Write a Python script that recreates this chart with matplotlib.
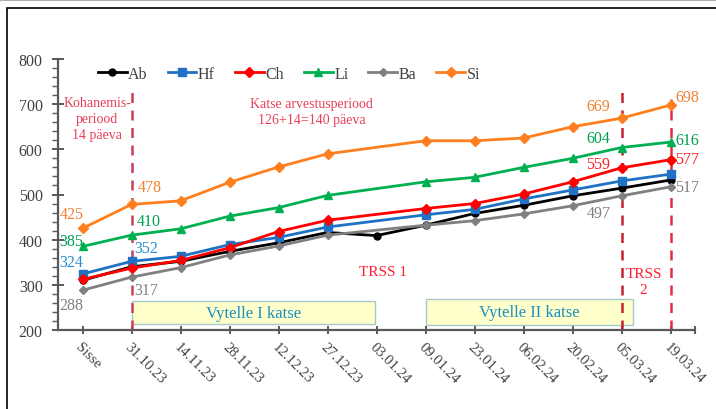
import numpy as np
import matplotlib
matplotlib.use("Agg")
import matplotlib.pyplot as plt
from matplotlib.patches import Rectangle
from matplotlib.ticker import MultipleLocator, FixedLocator

nan = np.nan
categories = ["Sisse", "31.10.23", "14.11.23", "28.11.23", "12.12.23", "27.12.23",
              "03.01.24", "09.01.24", "23.01.24", "06.02.24", "20.02.24", "05.03.24", "19.03.24"]
Ab = [310, 340, 352, 374, 393, 416, 409, 432, 458, 476, 497, 514, 532]
Hf = [324, 352, 363, 389, 405, 428, nan, 455, 467, 490, 510, 530, 545]
Ch = [312, 337, 354, 382, 418, 443, nan, 469, 480, 501, 528, 559, 577]
Li = [385, 410, 424, 452, 471, 498, nan, 528, 538, 560, 580, 604, 616]
Ba = [288, 317, 338, 366, 386, 410, nan, 432, 442, 457, 475, 497, 517]
Si = [425, 478, 486, 527, 561, 590, nan, 619, 619, 625, 650, 669, 698]

series = [
    ("Ab", Ab, "#000000", "o", 5),
    ("Hf", Hf, "#1f72c4", "s", 6),
    ("Ch", Ch, "#ff0000", "D", 5),
    ("Li", Li, "#00b050", "^", 6),
    ("Ba", Ba, "#808080", "D", 4),
    ("Si", Si, "#ff7f1e", "D", 5),
]
label_colors = {"Hf": "#1f8fd0", "Ch": "#ff2020", "Li": "#00a050",
                "Ba": "#808080", "Si": "#f08030"}
# (series, point index, offset px)
labels = [
    ("Si", 0, (-11, 14)), ("Li", 0, (-11, 5)), ("Hf", 0, (-11, 12)), ("Ba", 0, (-11, -15)),
    ("Si", 1, (18, 17)), ("Li", 1, (17, 14)), ("Hf", 1, (15, 13)), ("Ba", 1, (15, -13)),
    ("Si", 11, (-23, 12)), ("Li", 11, (-23, 10)), ("Ch", 11, (-23, 4)), ("Ba", 11, (-23, -17)),
    ("Si", 12, (17, 8)), ("Li", 12, (17, 2)), ("Ch", 12, (17, 1)), ("Ba", 12, (17, 0)),
]

plt.rcParams['font.family'] = ['Liberation Serif', 'DejaVu Serif']

fig = plt.figure(figsize=(7.16, 4.10), dpi=100)
ax = fig.add_axes([58/716, 1-331/410, (695-58)/716, (331-60)/410])

x = np.arange(len(categories))
data = {}
for name, vals, col, mk, ms in series:
    v = np.array(vals, dtype=float)
    data[name] = v
    m = ~np.isnan(v)
    ax.plot(x[m], v[m], color=col, marker=mk, markersize=ms, lw=2, label=name, zorder=3)

for name, idx, off in labels:
    ax.annotate(f"{int(data[name][idx])}", (x[idx], data[name][idx]), xytext=off,
                textcoords="offset pixels", ha="center", va="center",
                fontsize=11.5, color=label_colors[name], zorder=4)

# dashed vertical event lines
events = [(1, 729, "#c8405a"), (11, 738, "#c82030"), (12, 711, "#e03040")]
for xi, top, col in events:
    ax.vlines(xi, 200, top, colors=col, linestyles=(0, (4, 3)), lw=1.8, zorder=2)

# boxes
boxes = [("Vytelle I katse", 1.01, 5.96, 213, 264), ("Vytelle II katse", 7.01, 11.23, 211, 269)]
for txt, x0, x1, y0, y1 in boxes:
    ax.add_patch(Rectangle((x0, y0), x1-x0, y1-y0, facecolor="#ffffcc",
                           edgecolor="#a8c8c8", lw=1, zorder=1))
    ax.text((x0+x1)/2, (y0+y1)/2, txt, ha="center", va="center",
            fontsize=12, color="#1a8fc0", zorder=2)

red_txt = "#e8405a"
ax.text(0.3, 669, "Kohanemis-\nperiood\n14 päeva", ha="center", va="center",
        fontsize=10, color=red_txt, linespacing=1.3)
ax.text(4.68, 684, "Katse arvestusperiood\n126+14=140 päeva", ha="center", va="center",
        fontsize=10, color=red_txt, linespacing=1.3)
ax.text(6.13, 330, "TRSS 1", ha="center", va="center", fontsize=11, color="#ff2030")
ax.text(11.45, 308, "TRSS\n2", ha="center", va="center", fontsize=11, color="#ff2030",
        linespacing=1.3)

ax.set_xlim(-0.5, 12.5)
ax.set_ylim(200, 800)
ax.yaxis.set_major_locator(MultipleLocator(100))
ax.yaxis.set_minor_locator(MultipleLocator(20))
ax.set_xticks(x)
ax.set_xticklabels(categories, rotation=-45, ha="left", va="top", rotation_mode="anchor")
ax.xaxis.set_minor_locator(FixedLocator([12.5]))
for s in ["top", "right"]:
    ax.spines[s].set_visible(False)
for s in ["left", "bottom"]:
    ax.spines[s].set_color("#595959")
    ax.spines[s].set_linewidth(1.6)
ax.tick_params(axis="y", which="major", direction="inout", length=8, width=1.4,
               color="#595959", labelsize=11.5, pad=7)
ax.tick_params(axis="y", which="minor", direction="out", length=4, width=1, color="#595959")
ax.tick_params(axis="x", which="both", direction="inout", length=6, width=1.2,
               color="#404040", labelsize=10.5, pad=4)
for lab in ax.get_xticklabels():
    lab.set_color("#404040")
for lab in ax.get_yticklabels():
    lab.set_color("#404040")

leg = fig.legend(loc="center", bbox_to_anchor=(289/716, 1-75/410), ncol=6, frameon=False,
                 fontsize=11.5, handlelength=1.8, columnspacing=1.25, handletextpad=0.1)
for t in leg.get_texts():
    t.set_color("#404040")

# outer frame
fig.patches.append(Rectangle((7/716, -0.1), 1.2, 1-9/410+0.1, transform=fig.transFigure,
                             fill=False, edgecolor="black", lw=1.2))
fig.lines.append(plt.Line2D([0, 1], [1-1/410, 1-1/410], transform=fig.transFigure,
                            color="#b0b0b0", lw=1.5))

fig.savefig("out.png", dpi=100)
